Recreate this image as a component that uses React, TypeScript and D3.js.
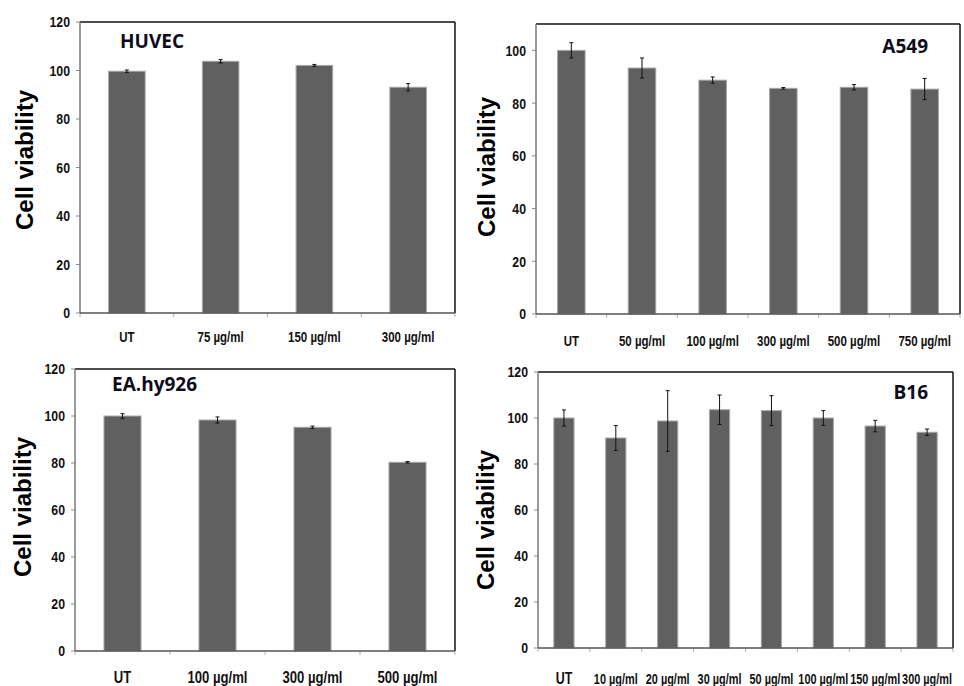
import React from "react";
import * as d3 from "d3";

// ---- data ----
const huvecCats = ["UT", "75 µg/ml", "150 µg/ml", "300 µg/ml"];
const huvecMean = [99.7, 103.8, 102.1, 93.1];
const huvecErr = [0.5, 0.7, 0.4, 1.5];

const a549Cats = ["UT", "50 µg/ml", "100 µg/ml", "300 µg/ml", "500 µg/ml", "750 µg/ml"];
const a549Mean = [100, 93.3, 88.7, 85.6, 86, 85.3];
const a549Err = [2.9, 3.8, 1.2, 0.3, 1.0, 4.0];

const eaCats = ["UT", "100 µg/ml", "300 µg/ml", "500 µg/ml"];
const eaMean = [100, 98.3, 95.2, 80.3];
const eaErr = [1.0, 1.3, 0.5, 0.3];

const b16Cats = ["UT", "10 µg/ml", "20 µg/ml", "30 µg/ml", "50 µg/ml", "100 µg/ml", "150 µg/ml", "300 µg/ml"];
const b16Mean = [100, 91.3, 98.7, 103.6, 103.2, 100, 96.5, 93.8];
const b16Err = [3.5, 5.4, 13.2, 6.4, 6.5, 3.2, 2.5, 1.4];

const ticks120 = [0, 20, 40, 60, 80, 100, 120];
const ticks100 = [0, 20, 40, 60, 80, 100];

const sans = "'Liberation Sans', Arial, sans-serif";
const titleFont = "'Open Sans', 'Noto Sans', sans-serif";
const BAR = "#606060";

// no Arial Narrow installed: squeeze Liberation Sans bold horizontally
const Narrow = ({ x, y, size, anchor, squeeze = 0.82, dy, children }: any) => (
  <text
    transform={`translate(${x},${y}) scale(${squeeze},1)`}
    dy={dy}
    textAnchor={anchor}
    fontFamily={sans}
    fontWeight="bold"
    fontSize={size}
    fill="#111"
  >
    {children}
  </text>
);

type PanelProps = {
  cats: string[];
  mean: number[];
  err: number[];
  ticks: number[];
  yMax: number;
  name: string;
  box: { left: number; right: number; top: number; bottom: number };
  nameX: number;
  nameY: number;
  nameAnchor: "start" | "end";
  labelX: number;
  labelY: number;
  xLabelY: number;
  xLabelSize: number;
  utSize?: number;
  squeeze?: number;
};

const Panel = (p: PanelProps) => {
  const { box } = p;
  const x = d3
    .scaleBand<string>()
    .domain(p.cats)
    .range([box.left, box.right])
    .paddingInner(0.61)
    .paddingOuter(0.305);
  const y = d3.scaleLinear().domain([0, p.yMax]).range([box.bottom, box.top]);
  const step = x.step();
  const bounds = p.cats.map((c) => (x(c) as number) - step * 0.305).concat([box.right]);

  return (
    <g>
      {/* y axis title */}
      <text
        transform={`translate(${p.labelX},${p.labelY}) rotate(-90)`}
        textAnchor="middle"
        fontFamily={sans}
        fontWeight="bold"
        fontSize={24}
        fill="#000"
      >
        Cell viability
      </text>

      {/* y ticks */}
      {p.ticks.map((t) => (
        <g key={t}>
          <line x1={box.left - 4} x2={box.left} y1={y(t)} y2={y(t)} stroke="#8c8c8c" />
          <Narrow x={box.left - 10} y={y(t)} dy="0.36em" anchor="end" size={15}>
            {t}
          </Narrow>
        </g>
      ))}

      {/* x ticks at category boundaries */}
      {bounds.map((b, i) => (
        <line key={i} x1={b} x2={b} y1={box.bottom} y2={box.bottom + 4} stroke="#b0b0b0" />
      ))}

      {/* bars */}
      {p.cats.map((c, i) => (
        <rect
          key={c}
          x={x(c)}
          y={y(p.mean[i])}
          width={x.bandwidth()}
          height={y(0) - y(p.mean[i])}
          fill={BAR}
          stroke="#a8a8a8"
          strokeWidth={1}
        />
      ))}

      {/* error bars */}
      {p.cats.map((c, i) => {
        const cx = (x(c) as number) + x.bandwidth() / 2;
        const hi = y(p.mean[i] + p.err[i]);
        const lo = y(p.mean[i] - p.err[i]);
        return (
          <g key={c} stroke="#111" strokeWidth={1}>
            <line x1={cx} x2={cx} y1={hi} y2={lo} />
            <line x1={cx - 2} x2={cx + 2} y1={hi} y2={hi} />
            <line x1={cx - 2} x2={cx + 2} y1={lo} y2={lo} />
          </g>
        );
      })}

      {/* frame: grey axes on left/bottom, black on top/right */}
      <line x1={box.left} x2={box.right} y1={box.top} y2={box.top} stroke="#111" strokeWidth={1.5} />
      <line x1={box.right} x2={box.right} y1={box.top} y2={box.bottom} stroke="#111" strokeWidth={1.5} />
      <line x1={box.left} x2={box.left} y1={box.top} y2={box.bottom} stroke="#7a7a7a" strokeWidth={1.5} />
      <line x1={box.left} x2={box.right} y1={box.bottom} y2={box.bottom} stroke="#555" strokeWidth={1.5} />

      {/* x labels */}
      {p.cats.map((c) => (
        <Narrow
          key={c}
          x={(x(c) as number) + x.bandwidth() / 2}
          y={p.xLabelY}
          anchor="middle"
          squeeze={p.squeeze}
          size={c === "UT" && p.utSize ? p.utSize : p.xLabelSize}
        >
          {c}
        </Narrow>
      ))}

      {/* cell line name */}
      <text
        x={p.nameX}
        y={p.nameY}
        textAnchor={p.nameAnchor}
        fontFamily={titleFont}
        fontWeight="bold"
        fontSize={19}
        fill="#0d0d1a"
      >
        {p.name}
      </text>
    </g>
  );
};

export default function App() {
  return (
    <div style={{ position: "absolute", left: 0, top: 0 }}>
      <svg width={964} height={686} style={{ display: "block", background: "#fff" }}>
        <Panel
          cats={huvecCats}
          mean={huvecMean}
          err={huvecErr}
          ticks={ticks120}
          yMax={120}
          name="HUVEC"
          box={{ left: 80, right: 455, top: 22, bottom: 313 }}
          nameX={120}
          nameY={48}
          nameAnchor="start"
          labelX={33}
          labelY={160}
          xLabelY={342}
          xLabelSize={14}
        />
        <Panel
          cats={a549Cats}
          mean={a549Mean}
          err={a549Err}
          ticks={ticks100}
          yMax={110}
          name="A549"
          box={{ left: 536, right: 960, top: 24, bottom: 314 }}
          nameX={928}
          nameY={53}
          nameAnchor="end"
          labelX={495}
          labelY={167}
          xLabelY={346}
          xLabelSize={14}
        />
        <Panel
          cats={eaCats}
          mean={eaMean}
          err={eaErr}
          ticks={ticks120}
          yMax={120}
          name="EA.hy926"
          box={{ left: 75, right: 455, top: 369, bottom: 651 }}
          nameX={112}
          nameY={391}
          nameAnchor="start"
          labelX={31}
          labelY={507}
          xLabelY={683}
          xLabelSize={16}
        />
        <Panel
          cats={b16Cats}
          mean={b16Mean}
          err={b16Err}
          ticks={ticks120}
          yMax={120}
          name="B16"
          box={{ left: 538, right: 953, top: 372, bottom: 648 }}
          nameX={928}
          nameY={399}
          nameAnchor="end"
          labelX={494}
          labelY={520}
          xLabelY={684}
          xLabelSize={14}
          utSize={16}
          squeeze={0.78}
        />
      </svg>
    </div>
  );
}
